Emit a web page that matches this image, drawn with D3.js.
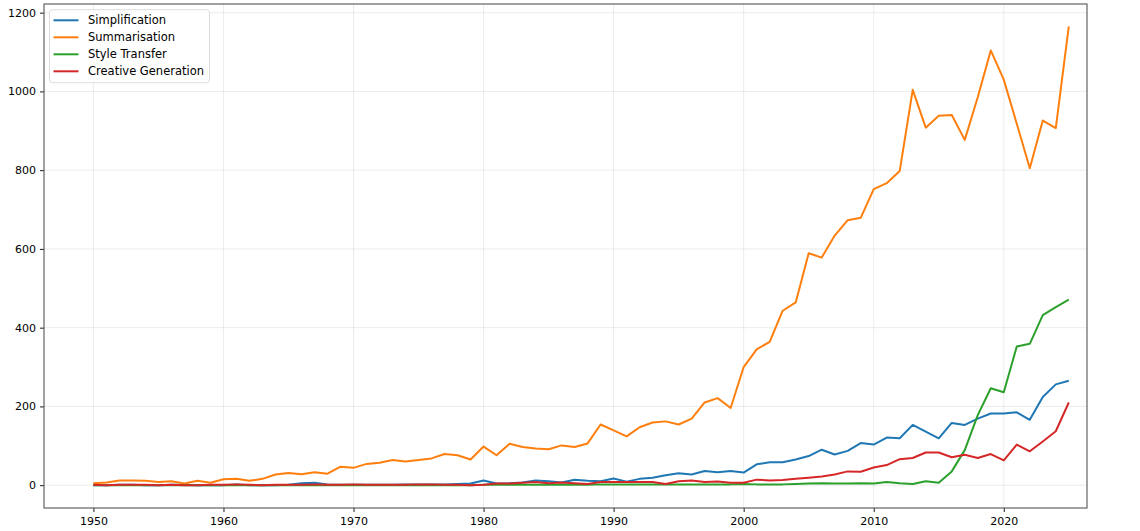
<!DOCTYPE html>
<html>
<head>
<meta charset="utf-8">
<script src="https://cdn.jsdelivr.net/npm/d3@7"></script>
<style>
  body { margin: 0; background: #fff; }
  text { font-family: "DejaVu Sans", sans-serif; }
</style>
</head>
<body>
<div id="chart"></div>
<script>
var years = d3.range(1950, 2026);

var seriesNames = ["Simplification", "Summarisation", "Style Transfer", "Creative Generation"];
var seriesColors = ["#1f77b4", "#ff7f0e", "#2ca02c", "#d62728"];

var simplification = [
  0, 0, 1, 1, 0, 0, 1, 1, 0, 0,
  0, 2, 0, 0, 0, 1, 5, 6, 2, 1,
  1, 1, 1, 1, 2, 2, 2, 2, 3, 4,
  12, 4, 5, 7, 12, 10, 7, 14, 11, 10,
  17, 9, 16, 19, 25, 30, 27, 36, 33, 36,
  32, 53, 58, 58, 65, 74, 90, 78, 87, 107,
  103, 121, 119, 153, 136, 119, 158, 153, 169, 182,
  182, 185, 166, 224, 256, 265
];

var summarisation = [
  5, 7, 12, 12, 11, 8, 10, 4, 11, 6,
  15, 16, 11, 16, 27, 31, 28, 33, 29, 47,
  44, 54, 57, 64, 60, 64, 68, 79, 76, 65,
  98, 76, 105, 97, 93, 91, 101, 97, 106, 154,
  139, 124, 147, 159, 162, 154, 169, 210, 221, 196,
  300, 345, 364, 443, 464, 589, 578, 634, 673, 679,
  752, 767, 798, 1004, 908, 938, 940, 877, 985, 1104,
  1030, 918, 805, 926, 907, 1165
];

var styleTransfer = [
  0, 0, 0, 0, 0, 0, 0, 0, 0, 0,
  0, 0, 0, 0, 0, 0, 0, 0, 0, 0,
  0, 0, 0, 0, 0, 0, 0, 0, 0, 0,
  1, 1, 1, 1, 1, 1, 1, 1, 1, 2,
  2, 2, 2, 2, 2, 2, 2, 2, 2, 2,
  3, 2, 2, 2, 3, 4, 5, 4, 4, 5,
  4, 8, 5, 3, 10, 6, 35, 89, 178, 246,
  236, 352, 359, 432, 452, 471
];

var creativeGeneration = [
  1, 0, 1, 1, 1, 0, 1, 0, 0, 1,
  1, 2, 1, 0, 1, 1, 1, 2, 1, 1,
  2, 1, 1, 1, 1, 2, 2, 1, 1, 0,
  1, 4, 4, 6, 8, 5, 7, 5, 3, 8,
  8, 8, 8, 8, 3, 10, 12, 8, 9, 6,
  6, 14, 12, 13, 16, 19, 22, 27, 35, 34,
  45, 51, 66, 69, 83, 83, 71, 77, 69, 79,
  63, 103, 86, 111, 137, 210
];

var xTicks = [1950, 1960, 1970, 1980, 1990, 2000, 2010, 2020];
var yTicks = [0, 200, 400, 600, 800, 1000, 1200];

var outerWidth = 1140,
    outerHeight = 531,
    margin = { top: 4, right: 53, bottom: 23, left: 44 },
    width = outerWidth - margin.left - margin.right,
    height = outerHeight - margin.top - margin.bottom;

var svg = d3.select("#chart").append("svg")
    .attr("width", outerWidth)
    .attr("height", outerHeight);

var g = svg.append("g")
    .attr("transform", "translate(" + margin.left + "," + margin.top + ")");

var x = d3.scaleLinear().domain([1946.2, 2026.4]).range([0, width]);
var y = d3.scaleLinear().domain([-58, 1222]).range([height, 0]);

// grid
g.append("g")
    .selectAll("line")
    .data(xTicks)
  .enter().append("line")
    .attr("x1", d => x(d)).attr("x2", d => x(d))
    .attr("y1", 0).attr("y2", height)
    .attr("stroke", "#b0b0b0").attr("stroke-opacity", 0.3).attr("stroke-width", 0.8);

g.append("g")
    .selectAll("line")
    .data(yTicks)
  .enter().append("line")
    .attr("x1", 0).attr("x2", width)
    .attr("y1", d => y(d)).attr("y2", d => y(d))
    .attr("stroke", "#b0b0b0").attr("stroke-opacity", 0.3).attr("stroke-width", 0.8);

// axes
var xAxis = g.append("g")
    .attr("transform", "translate(0," + height + ")")
    .call(d3.axisBottom(x).tickValues(xTicks).tickFormat(d3.format("d")).tickSize(4).tickPadding(5));

var yAxis = g.append("g")
    .call(d3.axisLeft(y).tickValues(yTicks).tickFormat(d3.format("d")).tickSize(4).tickPadding(4));

[xAxis, yAxis].forEach(function(a) {
  a.select(".domain").remove();
  a.selectAll("text").attr("font-size", "11px").attr("fill", "#000")
      .style("font-family", "'DejaVu Sans', sans-serif");
  a.selectAll("line").attr("stroke", "#000").attr("stroke-width", 0.9);
});

// lines
var allSeries = [simplification, summarisation, styleTransfer, creativeGeneration];

var line = d3.line()
    .x((d, i) => x(years[i]))
    .y(d => y(d));

g.append("g")
    .selectAll("path")
    .data(allSeries)
  .enter().append("path")
    .attr("d", line)
    .attr("fill", "none")
    .attr("stroke", (d, i) => seriesColors[i])
    .attr("stroke-width", 2)
    .attr("stroke-linejoin", "round");

// frame
g.append("rect")
    .attr("width", width)
    .attr("height", height)
    .attr("fill", "none")
    .attr("stroke", "#555")
    .attr("stroke-width", 1.1);

// legend
var legend = g.append("g")
    .attr("transform", "translate(5.5,5.7)");

legend.append("rect")
    .attr("width", 160)
    .attr("height", 73)
    .attr("rx", 3)
    .attr("fill", "#fff")
    .attr("fill-opacity", 0.8)
    .attr("stroke", "#ddd")
    .attr("stroke-width", 1);

var items = legend.selectAll("g.item")
    .data(seriesNames)
  .enter().append("g")
    .attr("class", "item")
    .attr("transform", (d, i) => "translate(0," + (10.6 + i * 17) + ")");

items.append("line")
    .attr("x1", 4).attr("x2", 29)
    .attr("stroke", (d, i) => seriesColors[i])
    .attr("stroke-width", 2);

items.append("text")
    .attr("x", 38.5)
    .attr("dy", "0.35em")
    .attr("font-size", "11.5px")
    .text(d => d);
</script>
</body>
</html>
